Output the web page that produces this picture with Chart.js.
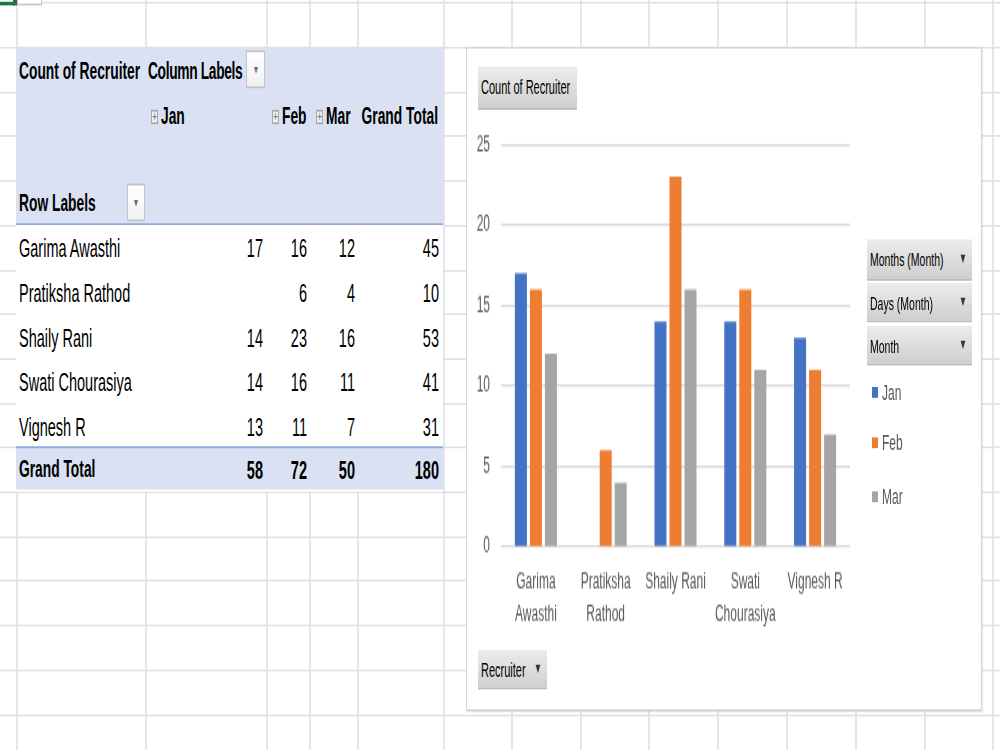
<!DOCTYPE html>
<html>
<head>
<meta charset="utf-8">
<script src="https://cdn.jsdelivr.net/npm/chart.js"></script>
<style>
html, body { margin: 0; padding: 0; background: #fff; overflow: hidden; }
body { width: 1000px; height: 750px; position: relative; }
/* the screenshot is stretched vertically, so the whole sheet is drawn flat and scaled */
#page {
    position: absolute; left: 0; top: 0;
    width: 1000px; height: 416.667px;
    transform: scaleY(1.8); transform-origin: 0 0;
    font-family: "Liberation Sans", Arial, sans-serif; color: #000;
}
.hl { position: absolute; left: 0; width: 1000px; height: 1px; background: #e2e2e2; }
.vl { position: absolute; top: 0; width: 1.5px; height: 416.667px; background: #e6e6e6; }
.t { position: absolute; white-space: nowrap; }
.dd {
    position: absolute; box-sizing: border-box;
    border: 1px solid #c4c4c4; background: linear-gradient(#ffffff, #f0f0f0);
    color: #6a6a6a; font-size: 8px; text-align: center;
}
.plus {
    position: absolute; box-sizing: border-box; width: 7px;
    border: 1px solid #a8a8a8; background: #eef0f4; color: #777;
    font-size: 8px; line-height: 6px; text-align: center;
}
.fbtn {
    position: absolute; box-sizing: border-box;
    background: linear-gradient(#ececec, #cfcfcf);
    border-bottom: 1px solid #bdbdbd;
    font-size: 11px; padding-left: 3px; color: #000; white-space: nowrap;
}
.fbtn .arr { position: absolute; right: 5px; font-size: 8px; color: #333; }
#chartBox {
    position: absolute; box-sizing: border-box; background: #fff;
    border: 1.5px solid #d6d6d6; box-shadow: 1px 1px 1px rgba(0,0,0,0.12);
}
#chartWrap { position: absolute; }
</style>
</head>
<body>
<div id="page">
    <div id="chartBox"></div>
    <div id="chartWrap"><canvas id="recruiter-chart"></canvas></div>
</div>
<script>
// Pivot data: count of recruiter per month
const recruiters = ['Garima Awasthi', 'Pratiksha Rathod', 'Shaily Rani', 'Swati Chourasiya', 'Vignesh R'];
const chartLabels = [['Garima', 'Awasthi'], ['Pratiksha', 'Rathod'], 'Shaily Rani', ['Swati', 'Chourasiya'], 'Vignesh R'];
const months = ['Jan', 'Feb', 'Mar'];
const janCounts = [17, null, 14, 14, 13];
const febCounts = [16, 6, 23, 16, 11];
const marCounts = [12, 4, 16, 11, 7];
const monthColors = ['#4472C4', '#ED7D31', '#A5A5A5'];
const fieldButtons = ['Months (Month)', 'Days (Month)', 'Month'];

const S = 1.8;            // vertical stretch of the screenshot
const page = document.getElementById('page');

// convert screenshot y to flat y
function py(y) { return y / S; }

// text centred on y, left aligned at x (or right aligned when right=true)
function put(text, x, y, size, bold, right) {
    const lh = 20;
    const css = {
        top: (py(y) - lh / 2) + 'px', lineHeight: lh + 'px',
        fontSize: size + 'px', fontWeight: bold ? 'bold' : 'normal'
    };
    if (right) { css.left = (x - 120) + 'px'; css.width = '120px'; css.textAlign = 'right'; }
    else css.left = x + 'px';
    const d = document.createElement('div');
    d.className = 't';
    Object.assign(d.style, css);
    d.textContent = text;
    page.appendChild(d);
    return d;
}

function drawSheet() {
    // grid lines
    for (let k = 0; k < 18; k++) {
        const d = document.createElement('div');
        d.className = 'hl';
        d.style.top = py(2.5 + 44.45 * k) + 'px';
        page.insertBefore(d, page.firstChild);
    }
    [16, 145, 266, 309, 357, 443, 511, 580, 648, 717, 786, 855, 924, 992].forEach(x => {
        const d = document.createElement('div');
        d.className = 'vl';
        d.style.left = x + 'px';
        page.insertBefore(d, page.firstChild);
    });
    // selected cell marker, top left
    const sel = document.createElement('div');
    Object.assign(sel.style, { position: 'absolute', left: '0px', top: py(2) + 'px', width: '15px', height: '1.4px', background: '#217346' });
    page.appendChild(sel);
    const selBox = document.createElement('div');
    Object.assign(selBox.style, { position: 'absolute', left: '13px', top: '0px', width: '4px', height: py(6) + 'px', background: '#217346' });
    page.appendChild(selBox);
    const selOut = document.createElement('div');
    Object.assign(selOut.style, { position: 'absolute', left: '17px', top: '0px', width: '23px', height: py(4) + 'px', border: '1px solid #c8c8c8', borderTop: 'none', background: '#fff' });
    page.appendChild(selOut);
}

function drawPivot() {
    const blocks = [
        { top: 46, h: 445, bg: '#ffffff' },
        { top: 46, h: 177, bg: '#D9E1F2' },
        { top: 447, h: 43.5, bg: '#D9E1F2' },
        { top: 222.5, h: 1.6, bg: '#8EA9DB' },
        { top: 446.5, h: 1.6, bg: '#8EA9DB' }
    ];
    blocks.forEach(b => {
        const d = document.createElement('div');
        Object.assign(d.style, { position: 'absolute', left: '16px', width: '427px', top: py(b.top) + 'px', height: py(b.h) + 'px', background: b.bg });
        page.appendChild(d);
    });

    // header
    put('Count of Recruiter', 19, 72, 13.8, true);
    put('Column Labels', 148, 72, 13.8, true).style.letterSpacing = '-0.35px';
    dropDown(246, 51, 19, 37);
    put('Grand Total', 438, 117, 13.8, true, true);
    const monthX = [151, 272, 316];
    months.forEach((m, i) => {
        plusBox(monthX[i], 110);
        put(m, monthX[i] + 10, 117, 13.8, true);
    });
    put('Row Labels', 19, 204, 13.8, true);
    dropDown(127, 184, 18, 37);

    // body rows
    const colRight = [263, 307, 355, 439];
    const rowY = [249, 293, 338, 382, 427];
    const series = [janCounts, febCounts, marCounts];
    recruiters.forEach((name, r) => {
        put(name, 19, rowY[r], 14.5, false);
        let total = 0;
        series.forEach((vals, c) => {
            if (vals[r] !== null) {
                put(String(vals[r]), colRight[c], rowY[r], 14.5, false, true);
                total += vals[r];
            }
        });
        put(String(total), colRight[3], rowY[r], 14.5, false, true);
    });

    // grand total
    put('Grand Total', 19, 469, 13.8, true);
    let all = 0;
    series.forEach((vals, c) => {
        const sum = vals.reduce((a, v) => a + (v || 0), 0);
        all += sum;
        put(String(sum), colRight[c], 469, 14.5, true, true);
    });
    put(String(all), colRight[3], 469, 14.5, true, true);
}

function dropDown(x, y, w, h) {
    const d = document.createElement('div');
    d.className = 'dd';
    Object.assign(d.style, { left: x + 'px', top: py(y) + 'px', width: w + 'px', height: py(h) + 'px', lineHeight: py(h) + 'px' });
    d.textContent = '\u25BE';
    page.appendChild(d);
}

function plusBox(x, y) {
    const d = document.createElement('div');
    d.className = 'plus';
    Object.assign(d.style, { left: x + 'px', top: py(y) + 'px', height: py(15) + 'px' });
    d.textContent = '+';
    page.appendChild(d);
}

function fieldButton(text, x, y, w, h, size, arrow) {
    const d = document.createElement('div');
    d.className = 'fbtn';
    Object.assign(d.style, { left: x + 'px', top: py(y) + 'px', width: w + 'px', height: py(h) + 'px', lineHeight: py(h) + 'px', fontSize: size + 'px' });
    d.textContent = text;
    if (arrow) {
        const a = document.createElement('span');
        a.className = 'arr';
        a.textContent = '\u25BC';
        d.appendChild(a);
    }
    page.appendChild(d);
}

function drawChartFrame() {
    const box = document.getElementById('chartBox');
    Object.assign(box.style, { left: '466px', top: py(47) + 'px', width: '516px', height: py(664) + 'px' });
    page.appendChild(box);
    page.appendChild(document.getElementById('chartWrap'));

    fieldButton('Count of Recruiter', 478, 67, 99, 43, 11, false);
    fieldButton('Recruiter', 478, 649, 69, 41, 11, true);
    const fy = [240, 282, 325];
    fieldButtons.forEach((t, i) => fieldButton(t, 867, fy[i], 105, 40, 10.5, true));

    // legend entries
    const ly = [393, 443, 497];
    months.forEach((m, i) => {
        const sq = document.createElement('div');
        Object.assign(sq.style, { position: 'absolute', left: '872px', top: py(ly[i] - 5.5) + 'px', width: '6px', height: py(11) + 'px', background: monthColors[i] });
        page.appendChild(sq);
        const t = document.createElement('div');
        t.className = 't';
        Object.assign(t.style, { left: '882px', top: (py(ly[i]) - 10) + 'px', lineHeight: '20px', fontSize: '12px', color: '#595959' });
        t.textContent = m;
        page.appendChild(t);
    });
}

function initChart() {
    const wrap = document.getElementById('chartWrap');
    Object.assign(wrap.style, { left: '466px', top: py(111) + 'px', width: '400px', height: py(529) + 'px' });

    Chart.defaults.font.family = '"Liberation Sans", Arial, sans-serif';
    const ctx = document.getElementById('recruiter-chart').getContext('2d');
    new Chart(ctx, {
        type: 'bar',
        data: {
            labels: chartLabels,
            datasets: [janCounts, febCounts, marCounts].map((vals, i) => ({
                label: months[i],
                data: vals,
                backgroundColor: monthColors[i],
                barPercentage: 0.8,
                categoryPercentage: 0.645
            }))
        },
        options: {
            responsive: true,
            maintainAspectRatio: false,
            animation: false,
            layout: { padding: { left: 0, right: 16, top: py(13.3), bottom: 2.8 } },
            plugins: {
                legend: { display: false },
                tooltip: { enabled: false }
            },
            scales: {
                x: {
                    grid: { display: false },
                    border: { display: false },
                    ticks: {
                        color: '#595959',
                        font: { size: 12, lineHeight: 1.45 },
                        padding: 3,
                        maxRotation: 0,
                        autoSkip: false
                    },
                    afterFit: function(scale) { scale.height = 50; }
                },
                y: {
                    min: 0,
                    max: 25,
                    ticks: { stepSize: 5, color: '#595959', font: { size: 12 }, padding: 11 },
                    grid: { color: '#d9d9d9', lineWidth: 1.2, drawTicks: false },
                    border: { display: false },
                    afterFit: function(scale) { scale.width = 35; }
                }
            }
        }
    });
}

drawSheet();
drawPivot();
drawChartFrame();
initChart();
</script>
</body>
</html>
